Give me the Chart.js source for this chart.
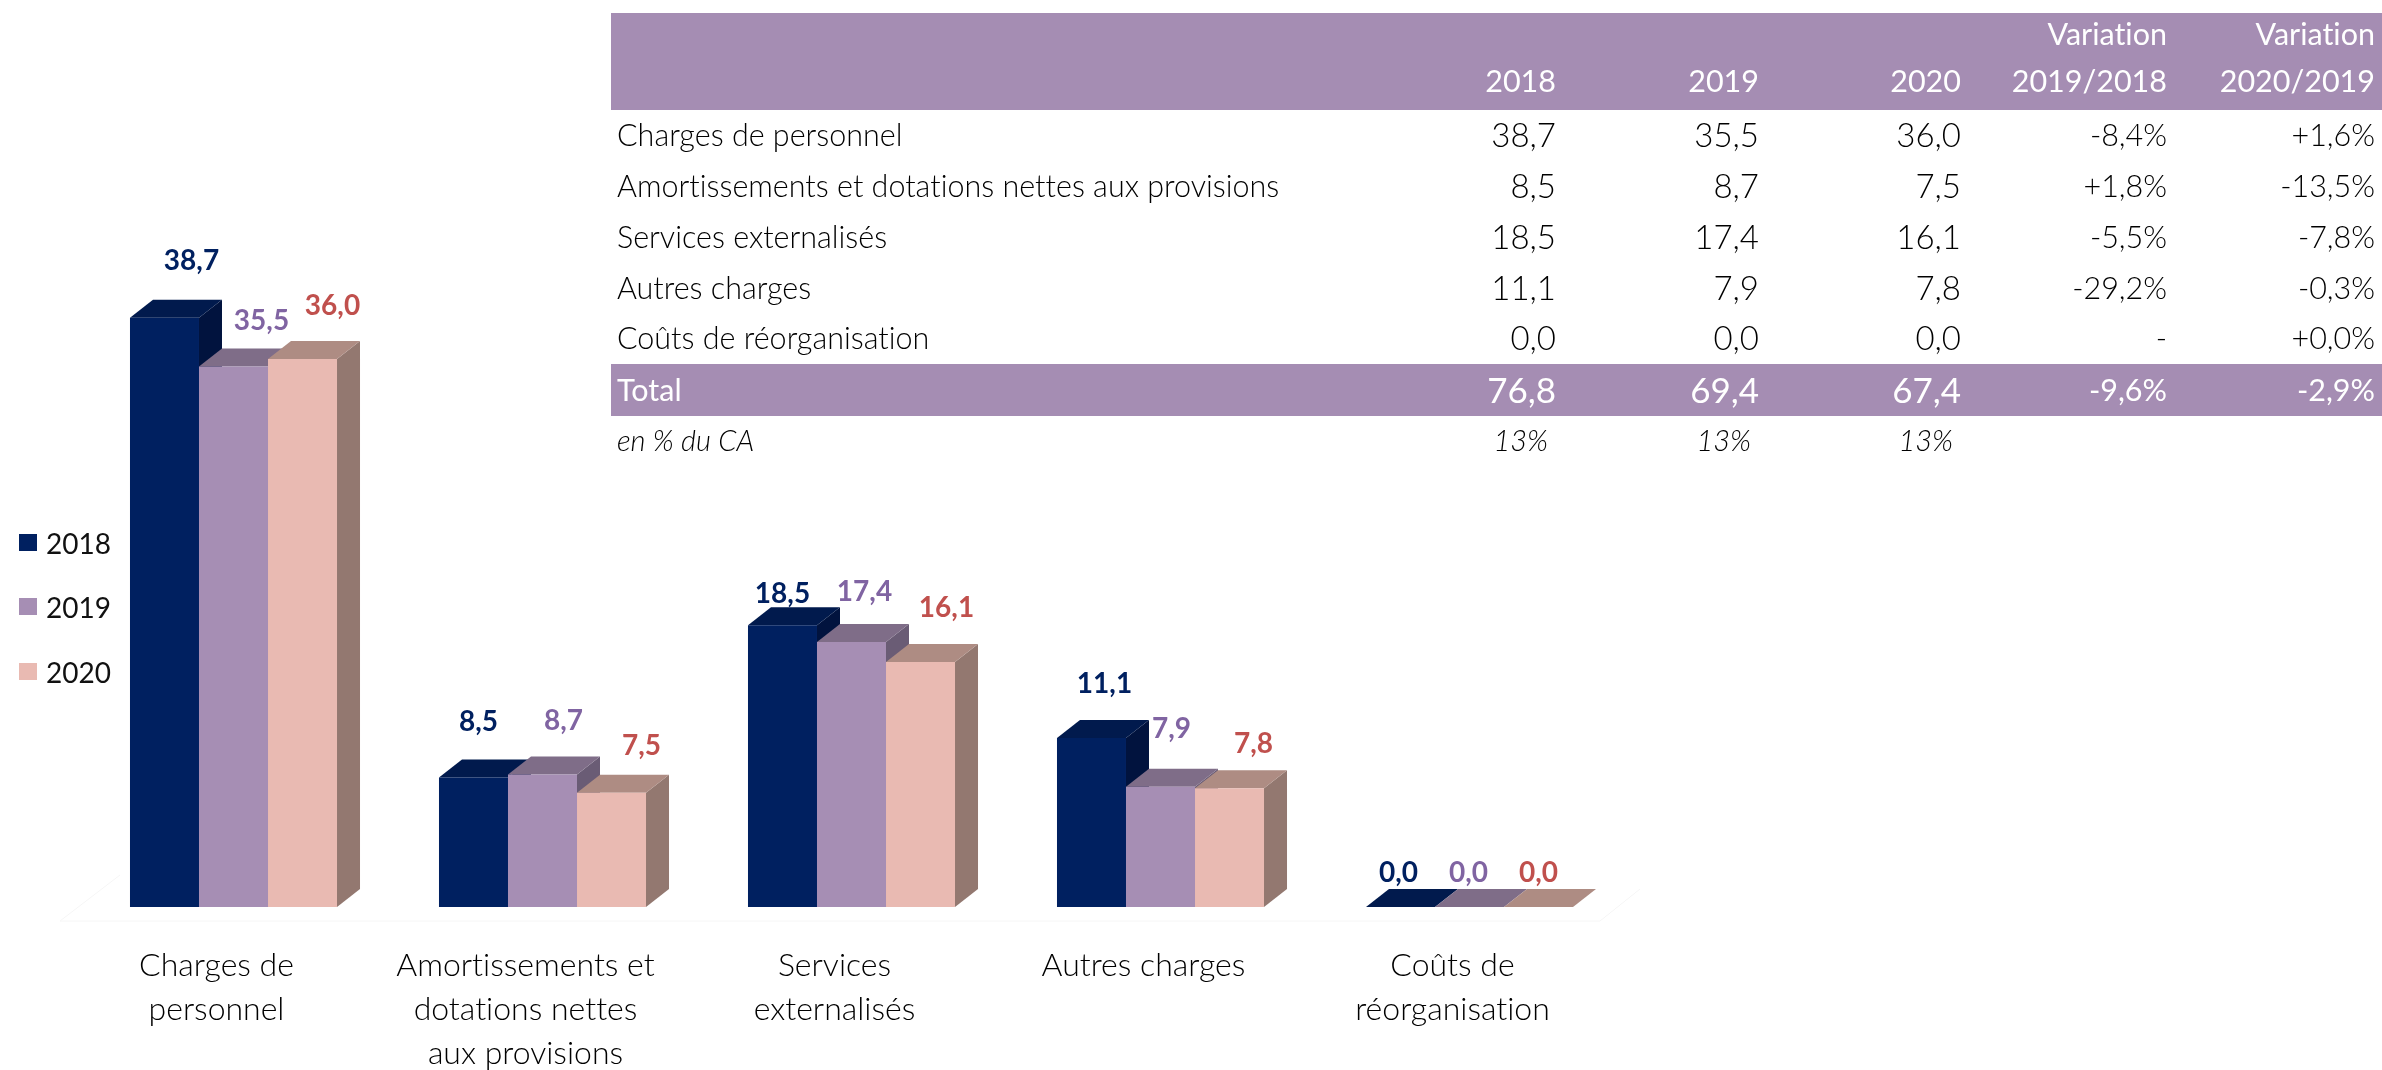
<!DOCTYPE html>
<html lang="fr">
<head>
  <meta charset="UTF-8">
  <title>Charges d'exploitation</title>
  <script src="https://cdn.jsdelivr.net/npm/chart.js"></script>
  <style>
    html, body { margin: 0; padding: 0; background: #fff; }
    body { width: 2382px; height: 1070px; position: relative; overflow: hidden; font-family: Lato, sans-serif; font-variant-ligatures: none; }
    canvas { position: absolute; left: 0; top: 0; }
    #legend div { position: absolute; left: 19px; height: 34px; line-height: 34px; font-size: 28px; color: #111; }
    #legend i { position: absolute; left: 0; top: 8px; width: 18px; height: 17px; }
    #legend span { position: absolute; left: 27px; }
    table { position: absolute; left: 611px; top: 13px; width: 1771px; border-collapse: collapse; table-layout: fixed; font-size: 30.5px; color: #000; }
    td, th { box-sizing: border-box; padding: 0 7px 4px 0; text-align: right; font-weight: 300; white-space: nowrap; }
    td:first-child, th:first-child { text-align: left; padding-left: 6px; }
    thead th { height: 97px; padding-bottom: 0; line-height: 47px; vertical-align: bottom; background: #a58db3; color: #fff; font-weight: 400; }
    thead span { display: block; position: relative; top: -6px; }
    tbody td { height: 51px; }
    tbody td:nth-child(2), tbody td:nth-child(3), tbody td:nth-child(4) { font-size: 33px; }
    tbody tr.last td { height: 50px; }
    tr.total td { height: 52px; padding-bottom: 2px; background: #a58db3; color: #fff; font-weight: 400; }
    tr.total td:nth-child(2), tr.total td:nth-child(3), tr.total td:nth-child(4) { font-size: 35px; }
    tbody tr.pct td { height: 50px; font-style: italic; font-size: 29px; padding-right: 15px; }
    tr.pct td:first-child { padding-right: 0; }
  </style>
</head>

<body>
  <canvas id="costChart" width="2382" height="1070"></canvas>
  <div id="legend"></div>
  <table id="costTable"></table>

  <script>
    const categories = [
      ['Charges de', 'personnel'],
      ['Amortissements et', 'dotations nettes', 'aux provisions'],
      ['Services', 'externalisés'],
      ['Autres charges'],
      ['Coûts de', 'réorganisation']
    ];
    const years = ['2018', '2019', '2020'];
    const values2018 = [38.7, 8.5, 18.5, 11.1, 0.0];
    const values2019 = [35.5, 8.7, 17.4, 7.9, 0.0];
    const values2020 = [36.0, 7.5, 16.1, 7.8, 0.0];

    const rowLabels = ['Charges de personnel', 'Amortissements et dotations nettes aux provisions', 'Services externalisés', 'Autres charges', 'Coûts de réorganisation'];
    const variation1 = ['-8,4%', '+1,8%', '-5,5%', '-29,2%', '-'];
    const variation2 = ['+1,6%', '-13,5%', '-7,8%', '-0,3%', '+0,0%'];
    const totalRow = ['Total', '76,8', '69,4', '67,4', '-9,6%', '-2,9%'];
    const pctRow = ['en % du CA', '13%', '13%', '13%', '', ''];

    // couleurs : face, dessus, côté, étiquette
    const faceColors = ['#002060', '#a68eb4', '#e9bab2'];
    const topColors = ['#011a4d', '#7f6d88', '#ae8c83'];
    const sideColors = ['#01133e', '#6a5c75', '#937870'];
    const labelColors = ['#002060', '#8064a2', '#c0504d'];

    // décalage des étiquettes par rapport au haut de chaque barre
    const labelShift = [
      [[27, -57], [5, -56], [0, -31], [13, -54], [-2, -34]],
      [[28, -46], [21, -54], [13, -50], [11, -58], [-1, -34]],
      [[30, -53], [30, -47], [26, -54], [24, -44], [0, -34]]
    ];

    const DEPTH_X = 23;
    const DEPTH_Y = 18;

    function fmt(v) {
      return v.toFixed(1).replace('.', ',');
    }

    function poly(ctx, color, pts) {
      ctx.fillStyle = color;
      ctx.beginPath();
      ctx.moveTo(pts[0][0], pts[0][1]);
      for (let i = 1; i < pts.length; i++) ctx.lineTo(pts[i][0], pts[i][1]);
      ctx.closePath();
      ctx.fill();
    }

    // faces de dessus et de côté, dessinées avant les faces avant de Chart.js
    const extrude = {
      id: 'extrude',
      beforeDatasetsDraw(chart) {
        const ctx = chart.ctx;
        const area = chart.chartArea;

        // le plancher, à peine visible
        ctx.strokeStyle = '#f6f6f6';
        ctx.lineWidth = 1;
        ctx.beginPath();
        ctx.moveTo(area.left + 41, area.bottom - 32);
        ctx.lineTo(area.left - 19, area.bottom + 14);
        ctx.lineTo(area.right - 24, area.bottom + 14);
        ctx.lineTo(area.right + 16, area.bottom - 18);
        ctx.stroke();

        for (let i = 0; i < categories.length; i++) {
          chart.data.datasets.forEach((ds, d) => {
            const bar = chart.getDatasetMeta(d).data[i];
            const l = bar.x - bar.width / 2;
            const r = bar.x + bar.width / 2;
            poly(ctx, sideColors[d], [[r, bar.y], [r + DEPTH_X, bar.y - DEPTH_Y], [r + DEPTH_X, bar.base - DEPTH_Y], [r, bar.base]]);
            poly(ctx, topColors[d], [[l, bar.y], [l + DEPTH_X, bar.y - DEPTH_Y], [r + DEPTH_X, bar.y - DEPTH_Y], [r, bar.y]]);
          });
        }
      },
      afterDatasetsDraw(chart) {
        const ctx = chart.ctx;
        ctx.font = 'bold 28px Lato';
        ctx.textAlign = 'center';
        ctx.textBaseline = 'middle';
        chart.data.datasets.forEach((ds, d) => {
          ds.data.forEach((v, i) => {
            const bar = chart.getDatasetMeta(d).data[i];
            ctx.fillStyle = labelColors[d];
            ctx.fillText(fmt(v), bar.x + labelShift[d][i][0], bar.y + labelShift[d][i][1]);
          });
        });
      }
    };

    new Chart(document.getElementById('costChart'), {
      type: 'bar',
      data: {
        labels: categories,
        datasets: [
          { label: years[0], data: values2018, backgroundColor: faceColors[0] },
          { label: years[1], data: values2019, backgroundColor: faceColors[1] },
          { label: years[2], data: values2020, backgroundColor: faceColors[2] }
        ]
      },
      options: {
        responsive: false,
        animation: false,
        layout: { padding: { left: 79, right: 758, top: 298, bottom: 0 } },
        datasets: { bar: { categoryPercentage: 0.67, barPercentage: 1, borderWidth: 0 } },
        plugins: { legend: { display: false }, tooltip: { enabled: false } },
        scales: {
          x: {
            grid: { display: false },
            border: { display: false },
            afterFit(scale) { scale.height = 163; },
            ticks: {
              color: '#000',
              maxRotation: 0,
              autoSkip: false,
              labelOffset: -17,
              padding: 29,
              font: { family: 'Lato', size: 32, weight: '300', lineHeight: 1.375 }
            }
          },
          y: { display: false, min: 0, max: 40 }
        }
      },
      plugins: [extrude]
    });

    // légende
    const legendTops = [526, 590, 655];
    document.getElementById('legend').innerHTML = years.map((y, i) =>
      '<div style="top:' + legendTops[i] + 'px"><i style="background:' + faceColors[i] + '"></i><span>' + y + '</span></div>'
    ).join('');

    // tableau
    function row(cells, cls) {
      return '<tr class="' + cls + '">' + cells.map(c => '<td>' + c + '</td>').join('') + '</tr>';
    }
    let html = '<colgroup><col style="width:689px"><col style="width:263px"><col style="width:203px"><col style="width:202px"><col style="width:206px"><col style="width:208px"></colgroup>';
    html += '<thead><tr><th></th>' + years.map(y => '<th><span>' + y + '</span></th>').join('') +
      '<th><span>Variation<br>2019/2018</span></th><th><span>Variation<br>2020/2019</span></th></tr></thead><tbody>';
    rowLabels.forEach((name, i) => {
      html += row([name, fmt(values2018[i]), fmt(values2019[i]), fmt(values2020[i]), variation1[i], variation2[i]], i === rowLabels.length - 1 ? 'last' : '');
    });
    html += row(totalRow, 'total') + row(pctRow, 'pct') + '</tbody>';
    document.getElementById('costTable').innerHTML = html;
  </script>
</body>
</html>
